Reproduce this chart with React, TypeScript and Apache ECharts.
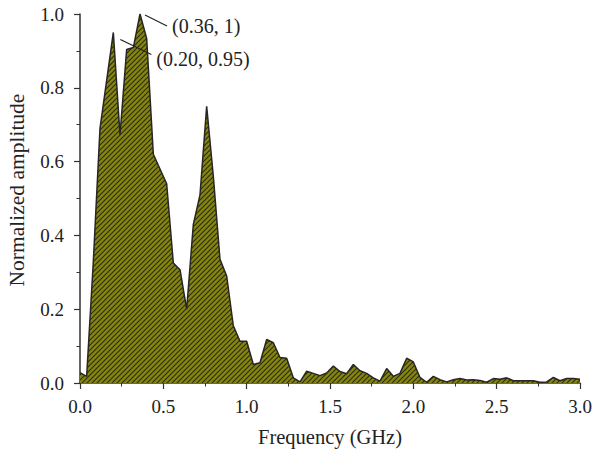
import React, { useEffect, useRef } from "react";
import * as echarts from "echarts";

const frequencyGHz = [
  0.0, 0.04, 0.08, 0.12, 0.16, 0.2, 0.24, 0.28, 0.32, 0.36, 0.4, 0.44, 0.48, 0.52, 0.56, 0.6,
  0.64, 0.68, 0.72, 0.76, 0.8, 0.84, 0.88, 0.92, 0.96, 1.0, 1.04, 1.08, 1.12, 1.16, 1.2, 1.24,
  1.28, 1.32, 1.36, 1.4, 1.44, 1.48, 1.52, 1.56, 1.6, 1.64, 1.68, 1.72, 1.76, 1.8, 1.84, 1.88,
  1.92, 1.96, 2.0, 2.04, 2.08, 2.12, 2.16, 2.2, 2.24, 2.28, 2.32, 2.36, 2.4, 2.44, 2.48, 2.52,
  2.56, 2.6, 2.64, 2.68, 2.72, 2.76, 2.8, 2.84, 2.88, 2.92, 2.96, 3.0,
];

const amplitude = [
  0.028, 0.018, 0.33, 0.69, 0.82, 0.95, 0.672, 0.904, 0.909, 1.0, 0.934, 0.62, 0.58, 0.54, 0.325, 0.307,
  0.2, 0.43, 0.51, 0.75, 0.56, 0.335, 0.29, 0.155, 0.113, 0.113, 0.05, 0.055, 0.118, 0.109, 0.069, 0.067,
  0.014, 0.003, 0.032, 0.026, 0.02, 0.027, 0.046, 0.031, 0.025, 0.05, 0.033, 0.026, 0.014, 0.005, 0.039, 0.018,
  0.026, 0.067, 0.057, 0.015, 0.002, 0.018, 0.009, 0.003, 0.009, 0.012, 0.008, 0.009, 0.007, 0.002, 0.012, 0.01,
  0.014, 0.006, 0.006, 0.006, 0.006, 0.002, 0.003, 0.015, 0.006, 0.012, 0.012, 0.01,
];

const xTitle = "Frequency (GHz)";
const yTitle = "Normalized amplitude";

const peakNotes = [
  { x: 0.36, y: 1.0, text: "(0.36, 1)", line: [5, 1, 27, 12], label: [32, 12] },
  { x: 0.2, y: 0.95, text: "(0.20, 0.95)", line: [7, 7, 38, 22], label: [43, 27] },
];

const FONT = "'Liberation Serif', 'Times New Roman', serif";
const TEXT_COLOR = "#222";
const AXIS_COLOR = "#333";

function makeHatch() {
  const s = 5;
  const c = document.createElement("canvas");
  c.width = s;
  c.height = s;
  const ctx = c.getContext("2d")!;
  ctx.fillStyle = "#85850f";
  ctx.fillRect(0, 0, s, s);
  ctx.strokeStyle = "#2c2c12";
  ctx.lineWidth = 1.1;
  ctx.beginPath();
  ctx.moveTo(-1, s + 1);
  ctx.lineTo(s + 1, -1);
  ctx.moveTo(-1, 1);
  ctx.lineTo(1, -1);
  ctx.moveTo(s - 1, s + 1);
  ctx.lineTo(s + 1, s - 1);
  ctx.stroke();
  return c;
}

export default function App() {
  const ref = useRef<HTMLDivElement>(null);

  useEffect(() => {
    if (!ref.current) return;
    const chart = echarts.init(ref.current, undefined, { renderer: "svg" });
    const hatch = makeHatch();
    const data = frequencyGHz.map((f, i) => [f, amplitude[i]]);

    chart.setOption({
      animation: false,
      grid: { left: 80, right: 15, top: 14, bottom: 73, outerBoundsMode: "none" },
      xAxis: {
        type: "value",
        min: 0,
        max: 3,
        interval: 0.5,
        name: xTitle,
        nameLocation: "middle",
        nameGap: 43,
        nameTextStyle: { fontFamily: FONT, fontSize: 20.5, color: TEXT_COLOR },
        axisLine: { show: true, onZero: false, lineStyle: { color: AXIS_COLOR, width: 1.5 } },
        axisTick: { show: true, length: 6, lineStyle: { color: AXIS_COLOR, width: 1.2 } },
        minorTick: { show: true, splitNumber: 2, length: 3.5, lineStyle: { color: AXIS_COLOR, width: 1 } },
        splitLine: { show: false },
        axisLabel: {
          fontFamily: FONT,
          fontSize: 19,
          color: TEXT_COLOR,
          margin: 14,
          formatter: (v: number) => v.toFixed(1),
        },
      },
      yAxis: {
        type: "value",
        min: 0,
        max: 1,
        interval: 0.2,
        axisLine: { show: true, onZero: false, lineStyle: { color: AXIS_COLOR, width: 1.5 } },
        axisTick: { show: true, length: 6, lineStyle: { color: AXIS_COLOR, width: 1.2 } },
        minorTick: { show: true, splitNumber: 2, length: 3.5, lineStyle: { color: AXIS_COLOR, width: 1 } },
        splitLine: { show: false },
        axisLabel: {
          fontFamily: FONT,
          fontSize: 19,
          color: TEXT_COLOR,
          margin: 16,
          formatter: (v: number) => v.toFixed(1),
        },
      },
      series: [
        {
          type: "line",
          data,
          symbol: "none",
          lineStyle: { color: "#262626", width: 1.5 },
          areaStyle: {
            opacity: 1,
            color: { image: hatch, repeat: "repeat", imageWidth: 5, imageHeight: 5 } as any,
          },
        },
      ],
    });

    const graphics: any[] = [
      {
        type: "text",
        x: 17,
        y: 190,
        rotation: Math.PI / 2,
        style: {
          text: yTitle,
          fontFamily: FONT,
          fontSize: 21.5,
          fill: TEXT_COLOR,
          align: "center",
          verticalAlign: "middle",
        },
      },
    ];
    peakNotes.forEach((n) => {
      const p = chart.convertToPixel({ gridIndex: 0 }, [n.x, n.y]) as number[];
      graphics.push({
        type: "line",
        shape: {
          x1: p[0] + n.line[0],
          y1: p[1] + n.line[1],
          x2: p[0] + n.line[2],
          y2: p[1] + n.line[3],
        },
        style: { stroke: "#222", lineWidth: 1.2 },
        z: 10,
      });
      graphics.push({
        type: "text",
        x: p[0] + n.label[0],
        y: p[1] + n.label[1],
        style: {
          text: n.text,
          fontFamily: FONT,
          fontSize: 20,
          fill: TEXT_COLOR,
          align: "left",
          verticalAlign: "middle",
        },
        z: 10,
      });
    });
    chart.setOption({ graphic: graphics });

    return () => chart.dispose();
  }, []);

  return <div ref={ref} style={{ width: 595, height: 456, position: "absolute", left: 0, top: 0 }} />;
}
